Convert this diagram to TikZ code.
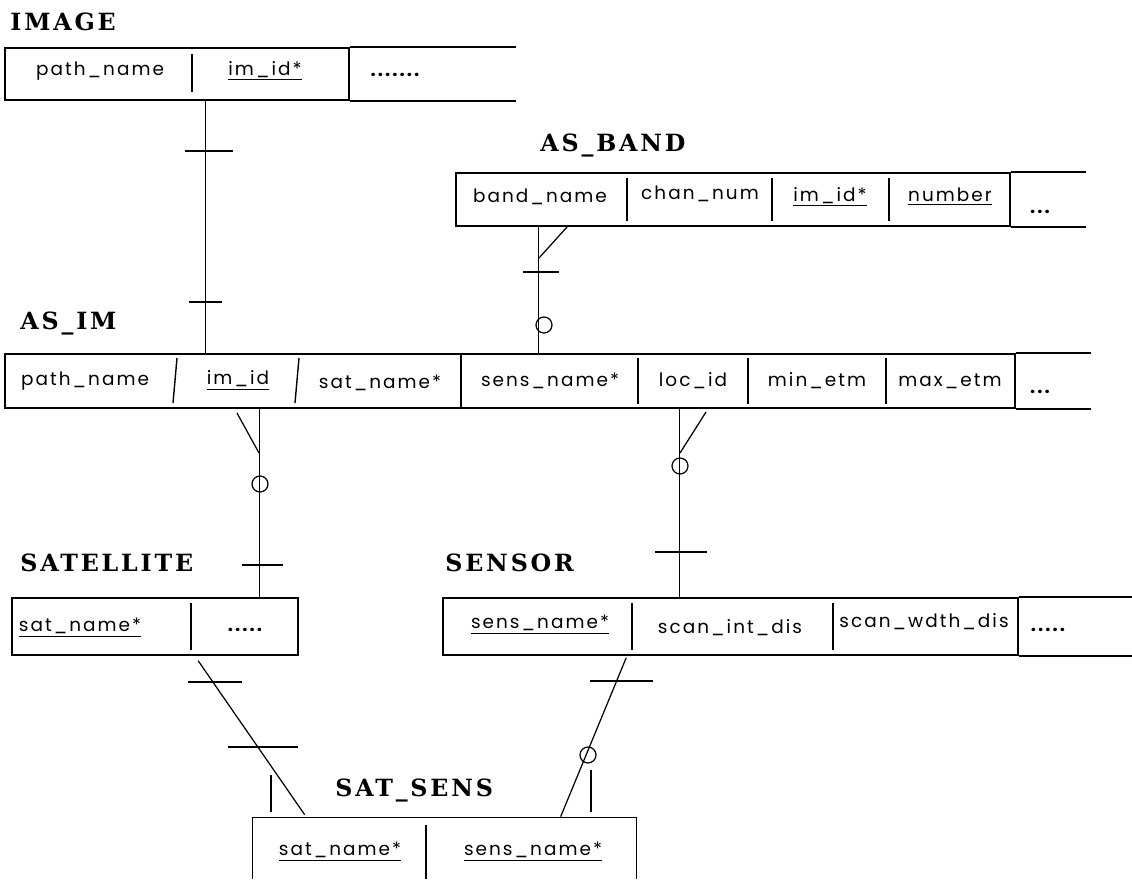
\documentclass[tikz,border=0pt]{standalone}
\usepackage{fontspec}
\newfontfamily\fldfont{Poppins}[LetterSpace=11]
\newfontfamily\ttlfont{DejaVu Serif}[LetterSpace=12]
\usetikzlibrary{fit,calc}
\begin{document}
\begin{tikzpicture}[x=0.02cm,y=-0.02cm,
  tbl/.style={draw,line width=0.9pt,inner sep=0pt},
  frame/.style={inner sep=0pt},
  fld/.style={font=\fldfont\fontsize{10.5}{12}\selectfont,inner sep=0pt,anchor=center},
  dots/.style={font=\fldfont\bfseries\fontsize{10.5}{12}\selectfont,inner sep=0pt,anchor=center},
  ttl/.style={font=\ttlfont\bfseries\fontsize{13.5}{15}\selectfont,anchor=west,inner sep=0pt},
  sep/.style={line width=0.8pt},
  ext/.style={line width=1.3pt},
  conn/.style={line width=0.7pt},
  bar/.style={line width=0.7pt},
  ring/.style={circle,draw,line width=0.7pt,minimum size=0.32cm,inner sep=0pt}
]
\useasboundingbox (0,0) rectangle (1132,879);

% ---------------- IMAGE
\node[ttl] (imgTitle) at (10,22) {IMAGE};
\node[tbl, fit={(5,48) (349,100)}] (imgT) {};
\draw[sep] (192,54) -- (192,92);
\draw[ext] (imgT.north east) -- ++(166,0);
\draw[ext] (imgT.south east) -- ++(166,0);
\node[fld] (imgPath) at (100,71) {path\_name};
\node[fld] (imgId) at (265,71) {\underline{im\_id*}};
\node[dots] (imgDots) at (395,75) {.......};

% ---------------- AS_BAND
\node[ttl] (bandTitle) at (540,145) {AS\_BAND};
\node[tbl, fit={(456,173) (1010,226)}] (bandT) {};
\draw[sep] (627,178) -- (627,221);
\draw[sep] (772,178) -- (772,221);
\draw[sep] (889,178) -- (889,221);
\draw[ext] (bandT.north east) -- ++(75,0);
\draw[ext] (bandT.south east) -- ++(75,0);
\node[fld] (bandName) at (540,197) {band\_name};
\node[fld] (bandChan) at (700,194) {chan\_num};
\node[fld] (bandId) at (830,197) {\underline{im\_id*}};
\node[fld] (bandNum) at (950,197) {\underline{number}};
\node[dots] (bandDots) at (1040,212) {...};

% ---------------- AS_IM
\node[ttl] (asimTitle) at (20,323) {AS\_IM};
\node[tbl, fit={(5,354) (1015,408)}] (asimT) {};
\draw[sep] (177,358) -- (173,403);
\draw[sep] (299,358) -- (295,403);
\draw[sep] (461,354) -- (461,408);
\draw[sep] (638,358) -- (638,404);
\draw[sep] (748,358) -- (748,404);
\draw[sep] (886,358) -- (886,404);
\draw[ext] (asimT.north east) -- ++(75,0);
\draw[ext] (asimT.south east) -- ++(75,0);
\node[fld] (asimPath) at (85,381) {path\_name};
\node[fld] (asimId) at (238,380) {\underline{im\_id}};
\node[fld] (asimSat) at (380,383) {sat\_name*};
\node[fld] (asimSens) at (550,381) {sens\_name*};
\node[fld] (asimLoc) at (693,381) {loc\_id};
\node[fld] (asimMin) at (817,381) {min\_etm};
\node[fld] (asimMax) at (950,381) {max\_etm};
\node[dots] (asimDots) at (1040,392) {...};

% ---------------- SATELLITE
\node[ttl] (satTitle) at (20,563) {SATELLITE};
\node[tbl, fit={(12,598) (298,655)}] (satT) {};
\draw[sep] (191,603) -- (191,650);
\node[fld] (satName) at (80,628) {\underline{sat\_name*}};
\node[dots] (satDots) at (245,630) {.....};

% ---------------- SENSOR
\node[ttl] (senTitle) at (445,563) {SENSOR};
\node[tbl, fit={(443,598) (1018,655)}] (senT) {};
\draw[sep] (632,603) -- (632,650);
\draw[sep] (833,603) -- (833,650);
\draw[ext] (senT.north east) -- ++(114,0);
\draw[ext] (senT.south east) -- ++(114,0);
\node[fld] (senName) at (540,625) {\underline{sens\_name*}};
\node[fld] (senInt) at (730,628) {scan\_int\_dis};
\node[fld] (senWdth) at (924,622) {scan\_wdth\_dis};
\node[dots] (senDots) at (1048,630) {.....};

% ---------------- SAT_SENS
\node[ttl] (ssTitle) at (335,790) {SAT\_SENS};
\node[frame, fit={(253,818) (636,879)}] (ssT) {};
\draw[line width=0.9pt] (ssT.south west) |- (ssT.north east) -- (ssT.south east);
\draw[sep] (426,825) -- (426,879);
\node[fld] (ssSat) at (340,852) {\underline{sat\_name*}};
\node[fld] (ssSens) at (533,852) {\underline{sens\_name*}};

% ---------------- connectors
% IMAGE -- AS_IM
\draw[conn] ($(imgT.south west)+(201,0)$) -- ($(asimT.north west)+(201,0)$);
\draw[bar] (185,151) -- (233,151);
\draw[bar] (189,302) -- (222,302);

% AS_BAND -- AS_IM
\draw[conn] ($(bandT.south west)+(83,0)$) -- ($(asimT.north west)+(534,0)$);
\draw[conn] ($(bandT.south west)+(112,0)$) -- (539,258);
\draw[bar] (523,272) -- (559,272);
\node[ring] (ringBand) at (544,325) {};

% AS_IM -- SATELLITE
\draw[conn] ($(asimT.south west)+(255,0)$) -- ($(satT.north west)+(248,0)$);
\draw[conn] (237,413) -- (259,453);
\node[ring] (ringSat) at (260,484) {};
\draw[bar] (242,565) -- (283,565);

% AS_IM -- SENSOR
\draw[conn] ($(asimT.south west)+(675,0)$) -- ($(senT.north west)+(237,0)$);
\draw[conn] (706,412) -- (680,453);
\node[ring] (ringSen) at (680,466) {};
\draw[bar] (655,552) -- (707,552);

% SATELLITE -- SAT_SENS
\draw[conn] ($(satT.south west)+(187,5)$) -- ($(ssT.north west)+(52,-3)$);
\draw[bar] (188,682) -- (242,682);
\draw[bar] (228,747) -- (298,747);
\draw[conn] (271,775) -- (271,812);

% SENSOR -- SAT_SENS
\draw[conn] ($(senT.south west)+(184,2)$) -- ($(ssT.north west)+(308,-1)$);
\draw[bar] (590,681) -- (653,681);
\node[ring] (ringSS) at (588,755) {};
\draw[conn] (591,770) -- (591,812);
\end{tikzpicture}
\end{document}
